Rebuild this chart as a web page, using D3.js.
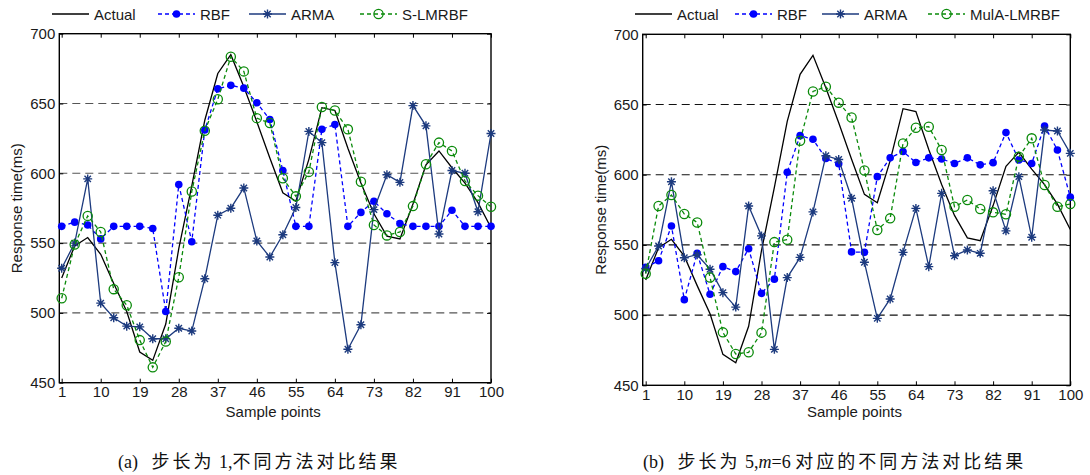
<!DOCTYPE html>
<html lang="zh">
<head>
    <meta charset="UTF-8">
    <title>Response time comparison</title>
    <script src="https://cdn.jsdelivr.net/npm/d3@7"></script>
    <style>
        body { margin: 0; background: #fff; }
        svg { display: block; }
        .tick text { font-family: "Liberation Sans", Arial, sans-serif; font-size: 15px; fill: #1a1a1a; }
        .lbl { font-family: "Liberation Sans", Arial, sans-serif; font-size: 15px; fill: #1a1a1a; }
        .cap { font-family: "Liberation Serif", "Noto Sans CJK SC", serif; font-size: 18px; fill: #111; }
        .cap .cjk { letter-spacing: 3px; }
    </style>
</head>
<body>
<svg id="chart" width="1090" height="475"></svg>
<script>
    // sample points (every 3rd point from 1 to 100)
    var samplePoints = [1, 4, 7, 10, 13, 16, 19, 22, 25, 28, 31, 34, 37, 40, 43, 46, 49,
        52, 55, 58, 61, 64, 67, 70, 73, 76, 79, 82, 85, 88, 91, 94, 97, 100];
    var xTicks = [1, 10, 19, 28, 37, 46, 55, 64, 73, 82, 91, 100];
    var yTicks = [450, 500, 550, 600, 650, 700];
    var gridValues = [500, 550, 600, 650];

    // actual response time (same in both panels)
    var actual = [525, 548, 554, 542, 521, 501, 472, 466, 492, 546, 591, 638, 671.5, 685, 662, 637, 611,
        586, 580, 610, 647, 645, 618, 593, 571, 555, 553, 578, 606, 616, 604, 593, 579, 561];

    // panel (a): step 1
    var rbfA = [562, 565, 563, 553, 562, 562, 562, 560.5, 501, 592, 551, 631, 660.5, 663, 661, 650.5, 638.5,
        602, 562, 562, 631.5, 635, 562, 572, 580, 571, 564, 562, 562, 562, 573.5, 562, 562, 562];
    var armaA = [532, 550, 596, 507, 496.5, 490.5, 490, 481.5, 481.5, 489, 487, 524.5, 570, 575, 589.5, 551.5, 540,
        556, 575.5, 630, 622, 536, 474, 491.5, 574, 599, 593.5, 648.5, 634, 556.5, 602, 600, 572.5, 628.5];
    var slmrbfA = [510.5, 549, 569.5, 558, 517, 505.5, 480.5, 461, 479.5, 525.5, 587, 630.5, 653, 683.5, 673, 639.5, 636,
        596.5, 583.5, 601, 647.5, 645, 631.5, 594, 563, 555.5, 558, 576.5, 606.5, 622, 616, 594.5, 584, 576];

    // panel (b): step 5, m=6
    var rbfB = [534, 538.7, 563.5, 511, 544, 514.8, 534.5, 531, 547.3, 515.5, 525.6, 601.7, 627.8, 625.3, 611.5, 607.8, 545,
        544.7, 598.6, 612, 616.5, 608.7, 612, 611.2, 608, 612, 607, 608.6, 630, 610.5, 608, 634.7, 617.6, 584];
    var armaB = [533, 549.2, 595, 540.8, 543, 532.7, 516, 505.7, 577.7, 556.4, 475.6, 526.7, 541.1, 573.5, 613.5, 610.8, 583.2,
        537.6, 497.7, 511.5, 544.7, 576, 534.5, 586.7, 542.3, 546.4, 544, 588.6, 560, 598.6, 555.4, 631.8, 631.1, 615.2];
    var mulaB = [529.5, 577.7, 585.5, 572, 566, 526.8, 487.7, 472.3, 473.5, 487.5, 552, 553.7, 624.2, 659.3, 662.7, 651.3, 640.8,
        603, 560.6, 568.9, 622.3, 633.4, 634.2, 617.6, 577.2, 582, 575.6, 573.2, 571.8, 612.8, 625.9, 592.7, 577.2, 579.1];

    var svg = d3.select("#chart");

    var styles = {
        actual: {color: "#000000", dash: null, marker: "none"},
        rbf: {color: "#0000ff", dash: "4,3", marker: "dot"},
        arma: {color: "#1c3a7e", dash: null, marker: "star"},
        lmrbf: {color: "#0a8a0a", dash: "4,3", marker: "circle"}
    };

    function drawMarker(g, type, color, cx, cy) {
        if (type === "dot") {
            g.append("circle").attr("cx", cx).attr("cy", cy).attr("r", 3.8).attr("fill", color);
        } else if (type === "circle") {
            g.append("circle").attr("cx", cx).attr("cy", cy).attr("r", 4.6)
                .attr("fill", "none").attr("stroke", color).attr("stroke-width", 1.3);
        } else if (type === "star") {
            var r = 4.5, d = 3.2;
            g.append("path")
                .attr("d", "M" + (cx - r) + "," + cy + "L" + (cx + r) + "," + cy +
                    "M" + cx + "," + (cy - r) + "L" + cx + "," + (cy + r) +
                    "M" + (cx - d) + "," + (cy - d) + "L" + (cx + d) + "," + (cy + d) +
                    "M" + (cx - d) + "," + (cy + d) + "L" + (cx + d) + "," + (cy - d))
                .attr("stroke", color).attr("stroke-width", 1.4).attr("fill", "none");
        }
    }

    function drawPanel(p) {
        var x = d3.scaleLinear().domain(p.xDomain).range([p.left, p.right]);
        var y = d3.scaleLinear().domain([450, 700]).range([p.bottom, p.top]);
        var g = svg.append("g");

        // dashed grid lines
        g.selectAll(".grid").data(gridValues).enter().append("line")
            .attr("x1", p.left).attr("x2", p.right)
            .attr("y1", function (d) { return y(d); }).attr("y2", function (d) { return y(d); })
            .attr("stroke", p.gridColor).attr("stroke-width", 1.1).attr("stroke-dasharray", "8,5");

        // axes with inward ticks
        var bottom = g.append("g").attr("transform", "translate(0," + p.bottom + ")")
            .call(d3.axisBottom(x).tickValues(xTicks).tickSizeInner(-4).tickSizeOuter(0).tickPadding(4));
        var top = g.append("g").attr("transform", "translate(0," + p.top + ")")
            .call(d3.axisTop(x).tickValues(xTicks).tickSizeInner(-4).tickSizeOuter(0).tickFormat(""));
        var leftAx = g.append("g").attr("transform", "translate(" + p.left + ",0)")
            .call(d3.axisLeft(y).tickValues(yTicks).tickSizeInner(-4).tickSizeOuter(0).tickPadding(4));
        var rightAx = g.append("g").attr("transform", "translate(" + p.right + ",0)")
            .call(d3.axisRight(y).tickValues(yTicks).tickSizeInner(-4).tickSizeOuter(0).tickFormat(""));
        [bottom, top, leftAx, rightAx].forEach(function (a) {
            a.select(".domain").remove();
            a.selectAll(".tick line").attr("stroke", "#000");
        });

        // frame
        g.append("rect").attr("x", p.left).attr("y", p.top)
            .attr("width", p.right - p.left).attr("height", p.bottom - p.top)
            .attr("fill", "none").attr("stroke", "#000").attr("stroke-width", 1.4);

        // series
        var line = d3.line()
            .x(function (d, i) { return x(samplePoints[i]); })
            .y(function (d) { return y(d); });
        p.series.forEach(function (s) {
            var st = styles[s.style];
            g.append("path").datum(s.values).attr("d", line)
                .attr("fill", "none").attr("stroke", st.color).attr("stroke-width", 1.3)
                .attr("stroke-dasharray", st.dash);
            if (st.marker !== "none") {
                s.values.forEach(function (v, i) {
                    drawMarker(g, st.marker, st.color, x(samplePoints[i]), y(v));
                });
            }
        });

        // axis labels
        g.append("text").attr("class", "lbl").attr("text-anchor", "middle")
            .attr("x", (p.left + p.right) / 2 - 2).attr("y", 417).text("Sample points");
        g.append("text").attr("class", "lbl").attr("text-anchor", "middle")
            .attr("transform", "translate(" + p.ylabX + "," + ((p.top + p.bottom) / 2) + ") rotate(-90)")
            .text("Response time(ms)");

        // legend
        var lg = g.append("g");
        lg.append("rect").attr("x", p.legend[0].x - 6).attr("y", 2).attr("width", p.legendWidth).attr("height", 26)
            .attr("fill", "#fff");
        p.legend.forEach(function (e) {
            var st = styles[e.style];
            lg.append("line").attr("x1", e.x).attr("x2", e.x + 37).attr("y1", 14).attr("y2", 14)
                .attr("stroke", st.color).attr("stroke-width", 1.3).attr("stroke-dasharray", st.dash);
            if (st.marker !== "none") drawMarker(lg, st.marker, st.color, e.x + 18.5, 14);
            lg.append("text").attr("class", "lbl").attr("x", e.x + 42).attr("y", 19.5).text(e.label);
        });

        // caption
        svg.append("text").attr("class", "cap").attr("x", p.capX).attr("y", 468).html(p.caption);
    }

    drawPanel({
        left: 59.3, right: 491, top: 33.7, bottom: 382.7, xDomain: [0.45, 100],
        gridColor: "#555", ylabX: 22,
        series: [
            {values: actual, style: "actual"},
            {values: rbfA, style: "rbf"},
            {values: armaA, style: "arma"},
            {values: slmrbfA, style: "lmrbf"}
        ],
        legend: [
            {x: 52, label: "Actual", style: "actual"},
            {x: 158, label: "RBF", style: "rbf"},
            {x: 249, label: "ARMA", style: "arma"},
            {x: 360, label: "S-LMRBF", style: "lmrbf"}
        ],
        legendWidth: 430,
        capX: 118,
        caption: "(a)&#160;&#160;&#160;<tspan class=\"cjk\">步长为</tspan> 1,<tspan class=\"cjk\">不同方法对比结果</tspan>"
    });

    drawPanel({
        left: 642.7, right: 1070.3, top: 34.3, bottom: 385.3, xDomain: [0.3, 100],
        gridColor: "#111", ylabX: 606,
        series: [
            {values: actual, style: "actual"},
            {values: rbfB, style: "rbf"},
            {values: armaB, style: "arma"},
            {values: mulaB, style: "lmrbf"}
        ],
        legend: [
            {x: 635, label: "Actual", style: "actual"},
            {x: 735, label: "RBF", style: "rbf"},
            {x: 822, label: "ARMA", style: "arma"},
            {x: 928, label: "MulA-LMRBF", style: "lmrbf"}
        ],
        legendWidth: 440,
        capX: 643,
        caption: "(b)&#160;&#160;&#160;<tspan class=\"cjk\">步长为</tspan> 5,<tspan font-style=\"italic\">m</tspan>=6 <tspan class=\"cjk\">对应的不同方法对比结果</tspan>"
    });
</script>
</body>
</html>
